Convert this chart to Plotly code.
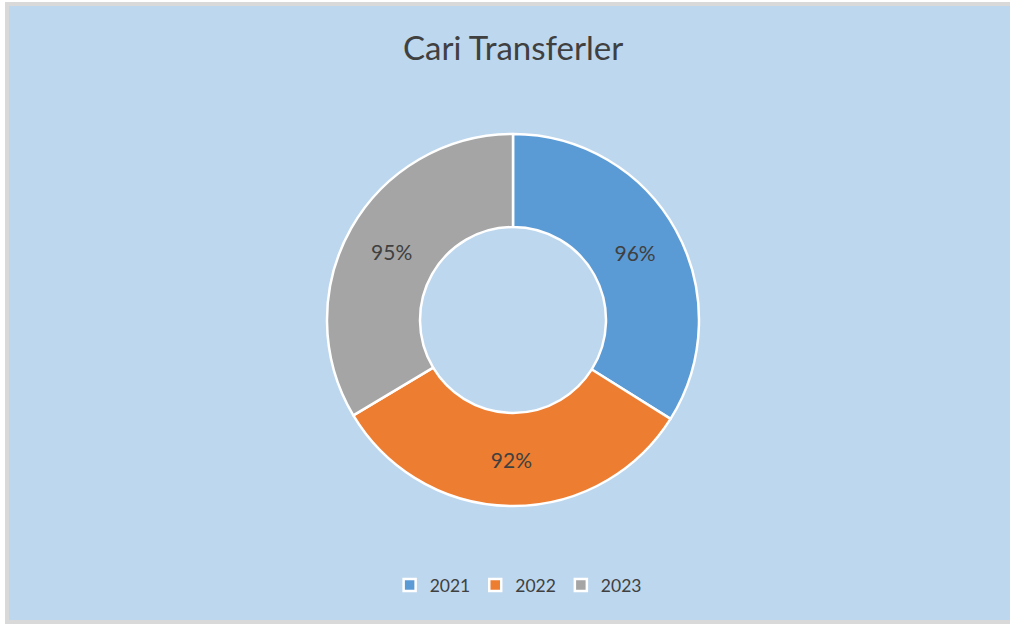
import plotly.graph_objects as go

years = ["2021", "2022", "2023"]
values = [96, 92, 95]
colors = ["#5B9BD5", "#ED7D31", "#A5A5A5"]

W, H = 1010, 624

fig = go.Figure(
    go.Pie(
        labels=years,
        values=values,
        hole=0.5,
        sort=False,
        direction="clockwise",
        rotation=0,
        marker=dict(colors=colors, line=dict(color="white", width=2.5)),
        texttemplate="%{value}%",
        textposition="inside",
        insidetextorientation="horizontal",
        textfont=dict(family="Lato, sans-serif", size=21, color="#404040"),
        hoverinfo="label+value",
        domain={"x": [327 / W, 699 / W], "y": [(H - 506) / H, (H - 134) / H]},
    )
)

# frame: white edge, grey border, blue chart area
fig.add_shape(type="rect", xref="paper", yref="paper",
              x0=5 / W, x1=1.05, y0=-0.05, y1=(H - 2) / H,
              fillcolor="#D9D9D9", line_width=0, layer="below")
fig.add_shape(type="rect", xref="paper", yref="paper",
              x0=9 / W, x1=1.05, y0=4 / H, y1=(H - 6) / H,
              fillcolor="#BDD7EE", line_width=0, layer="below")

fig.update_layout(
    width=W,
    height=H,
    title=dict(
        text="Cari Transferler",
        x=0.508,
        xanchor="center",
        y=(H - 48) / H,
        yanchor="middle",
        font=dict(family="Lato, sans-serif", size=33, color="#404040"),
    ),
    legend=dict(
        orientation="h",
        x=0.513,
        xanchor="center",
        y=(H - 585) / H,
        yanchor="middle",
        font=dict(family="Lato, sans-serif", size=17.5, color="#404040"),
        itemwidth=30,
        bgcolor="rgba(0,0,0,0)",
    ),
    paper_bgcolor="white",
    plot_bgcolor="white",
    margin=dict(l=0, r=0, t=0, b=0),
    showlegend=True,
)

fig.write_html(
    "out.html",
    config={"displayModeBar": False},
    post_script="document.body.style.margin='0';document.body.style.overflow='hidden';",
)
